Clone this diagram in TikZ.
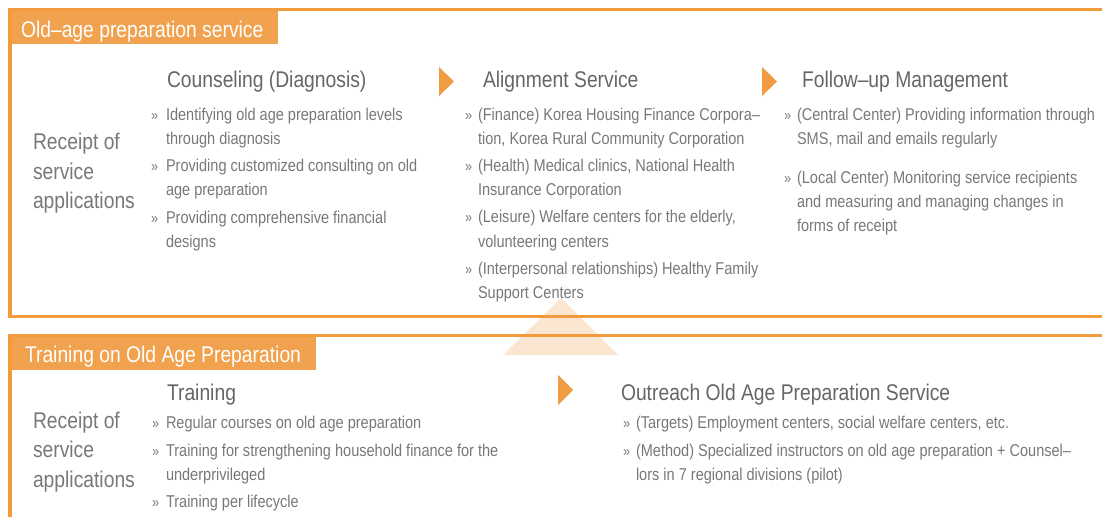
\documentclass[tikz,border=0pt]{standalone}
\usepackage{fontspec}
\setmainfont{Liberation Sans}
\newfontfamily\narrowf[FakeStretch=0.85]{Liberation Sans}
\definecolor{tabor}{HTML}{F0A24E}
\definecolor{lineor}{HTML}{F29A3C}
\definecolor{arrowor}{HTML}{F09C42}
\definecolor{peach}{HTML}{FBE6D1}
\definecolor{txtgray}{HTML}{787878}
\definecolor{headgray}{HTML}{666666}
\newcommand{\bigfont}{\narrowf\fontsize{22.7}{27}\selectfont}
\newcommand{\smallfont}{\narrowf\fontsize{17.1}{21}\selectfont}
\newcommand{\bulfont}{\narrowf\fontsize{15}{18}\selectfont}
\tikzset{
  every node/.style={inner sep=0pt, outer sep=0pt, anchor=base west},
  body/.style={font=\smallfont, text=txtgray},
  head/.style={font=\bigfont, text=headgray},
  recv/.style={font=\bigfont, text=txtgray},
  tabtitle/.style={font=\bigfont, text=white},
  bul/.style={font=\bulfont, text=txtgray},
  frame/.style={draw=lineor, line width=3pt},
  sidebar/.style={draw=lineor, line width=4pt},
  tabfill/.style={fill=tabor},
  stepmark/.style={fill=arrowor},
}
\begin{document}
\begin{tikzpicture}[x=1pt, y=-1pt]
\useasboundingbox (0,0) rectangle (1102,517);

% pale backdrop triangle between the two panels
\fill[peach] (561,298) -- (618,355) -- (503,355) -- cycle;

% upper panel frame
\fill[tabfill] (8,8) rectangle (278,44);
\draw[frame] (8,9.5) -- (1102,9.5);
\draw[frame] (8,316) -- (1102,316);
\draw[sidebar] (10,8) -- (10,317.5);

% lower panel frame
\fill[tabfill] (8,334) rectangle (316,370);
\draw[frame] (8,335.5) -- (1102,335.5);
\draw[sidebar] (10,334) -- (10,517);

% step markers
\fill[stepmark] (439,67) -- (454,81.5) -- (439,96) -- cycle;
\fill[stepmark] (762,67) -- (777,81.5) -- (762,96) -- cycle;
\fill[stepmark] (558,375) -- (573,390) -- (558,405) -- cycle;

% ---------- upper panel ----------
\node[tabtitle] (t1) at (21,37) {Old–age preparation service};

\node[recv] (r1a) at (33,149) {Receipt of};
\node[recv] (r1b) at (33,179) {service};
\node[recv] (r1c) at (33,208) {applications};

\node[head] (h1) at (167,87) {Counseling (Diagnosis)};
\node[bul] (b11) at (151,120) {»};
\node[body] (c11) at (166,120) {Identifying old age preparation levels};
\node[body] (c12) at (166,144) {through diagnosis};
\node[bul] (b12) at (151,171) {»};
\node[body] (c13) at (166,171) {Providing customized consulting on old};
\node[body] (c14) at (166,195) {age preparation};
\node[bul] (b13) at (151,223) {»};
\node[body] (c15) at (166,223) {Providing comprehensive financial};
\node[body] (c16) at (166,247) {designs};

\node[head] (h2) at (483,87) {Alignment Service};
\node[bul] (b21) at (465,120) {»};
\node[body] (c21) at (478,120) {(Finance) Korea Housing Finance Corpora–};
\node[body] (c22) at (478,144) {tion, Korea Rural Community Corporation};
\node[bul] (b22) at (465,171) {»};
\node[body] (c23) at (478,171) {(Health) Medical clinics, National Health};
\node[body] (c24) at (478,195) {Insurance Corporation};
\node[bul] (b23) at (465,222) {»};
\node[body] (c25) at (478,222) {(Leisure) Welfare centers for the elderly,};
\node[body] (c26) at (478,247) {volunteering centers};
\node[bul] (b24) at (465,274) {»};
\node[body] (c27) at (478,274) {(Interpersonal relationships) Healthy Family};
\node[body] (c28) at (478,298) {Support Centers};

\node[head] (h3) at (802,87) {Follow–up Management};
\node[bul] (b31) at (784,120) {»};
\node[body] (c31) at (797,120) {(Central Center) Providing information through};
\node[body] (c32) at (797,144) {SMS, mail and emails regularly};
\node[bul] (b32) at (784,183) {»};
\node[body] (c33) at (797,183) {(Local Center) Monitoring service recipients};
\node[body] (c34) at (797,207) {and measuring and managing changes in};
\node[body] (c35) at (797,231) {forms of receipt};

% ---------- lower panel ----------
\node[tabtitle] (t2) at (25,362) {Training on Old Age Preparation};

\node[recv] (r2a) at (33,428) {Receipt of};
\node[recv] (r2b) at (33,457) {service};
\node[recv] (r2c) at (33,487) {applications};

\node[head] (h4) at (167,400) {Training};
\node[bul] (b41) at (152,428) {»};
\node[body] (d11) at (166,428) {Regular courses on old age preparation};
\node[bul] (b42) at (152,456) {»};
\node[body] (d12) at (166,456) {Training for strengthening household finance for the};
\node[body] (d13) at (166,480) {underprivileged};
\node[bul] (b43) at (152,507) {»};
\node[body] (d14) at (166,507) {Training per lifecycle};

\node[head] (h5) at (621,400) {Outreach Old Age Preparation Service};
\node[bul] (b51) at (623,428) {»};
\node[body] (d21) at (636,428) {(Targets) Employment centers, social welfare centers, etc.};
\node[bul] (b52) at (623,456) {»};
\node[body] (d22) at (636,456) {(Method) Specialized instructors on old age preparation + Counsel–};
\node[body] (d23) at (636,480) {lors in 7 regional divisions (pilot)};
\end{tikzpicture}
\end{document}
